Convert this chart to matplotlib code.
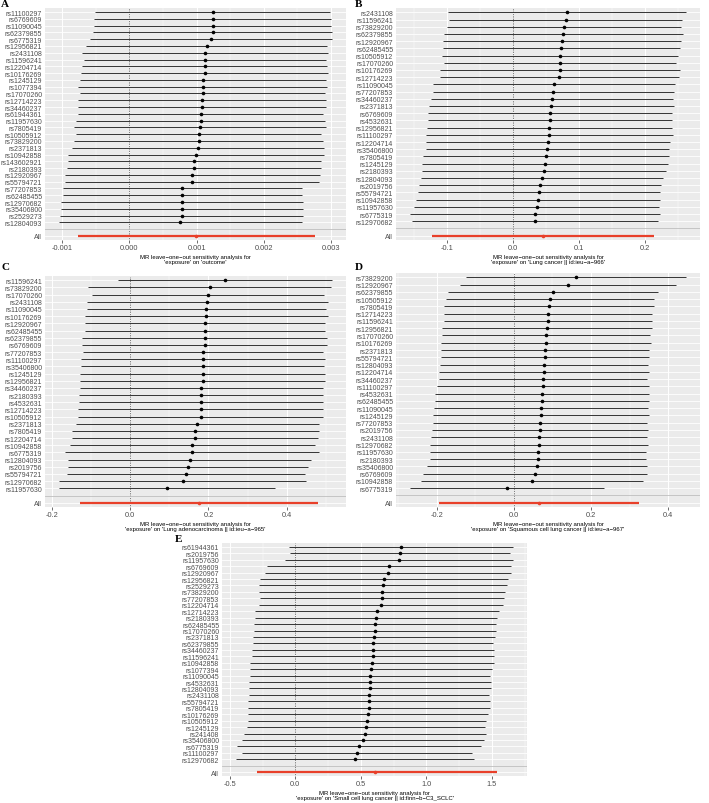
import matplotlib.pyplot as plt

plt.rcParams['font.family'] = ['Liberation Sans', 'DejaVu Sans']

# ---- Panel A: 'exposure' on 'outcome'
snps_a = ['rs11100297', 'rs6769609', 'rs11090045', 'rs62379855', 'rs6775319', 'rs12956821',
          'rs2431108', 'rs11596241', 'rs12204714', 'rs10176269', 'rs1245129', 'rs1077394',
          'rs17070260', 'rs12714223', 'rs34460237', 'rs61944361', 'rs11957630', 'rs7805419',
          'rs10505912', 'rs73829200', 'rs2371813', 'rs10942858', 'rs143602921', 'rs2180393',
          'rs12920967', 'rs55794721', 'rs77207853', 'rs62485455', 'rs12970682', 'rs35406800',
          'rs2529273', 'rs12804093']
est_a = [1.24, 1.24, 1.24, 1.24, 1.22, 1.15, 1.13, 1.13, 1.12, 1.12, 1.10, 1.09, 1.09, 1.08,
         1.08, 1.06, 1.06, 1.05, 1.03, 1.03, 1.02, 0.99, 0.97, 0.96, 0.94, 0.93, 0.79, 0.79,
         0.78, 0.78, 0.78, 0.76]
lo_a = [-0.51, -0.52, -0.52, -0.54, -0.58, -0.64, -0.70, -0.67, -0.70, -0.72, -0.73, -0.76,
        -0.73, -0.76, -0.76, -0.76, -0.79, -0.82, -0.79, -0.82, -0.85, -0.91, -0.91, -0.93,
        -0.96, -0.96, -0.99, -0.99, -1.02, -1.02, -1.03, -1.05]
hi_a = [2.99, 3.00, 3.00, 3.02, 3.02, 2.94, 2.96, 2.93, 2.94, 2.96, 2.93, 2.94, 2.91, 2.92,
        2.92, 2.88, 2.91, 2.92, 2.85, 2.88, 2.89, 2.89, 2.85, 2.85, 2.84, 2.82, 2.57, 2.57,
        2.58, 2.58, 2.59, 2.57]
all_a = [0.99, -0.76, 2.76]
est_a = [v / 1000 for v in est_a]
lo_a = [v / 1000 for v in lo_a]
hi_a = [v / 1000 for v in hi_a]
all_a = [v / 1000 for v in all_a]

# ---- Panel B: Lung cancer || id:ieu-a-966
snps_b = ['rs2431108', 'rs11596241', 'rs73829200', 'rs62379855', 'rs12920967', 'rs62485455',
          'rs10505912', 'rs17070260', 'rs10176269', 'rs12714223', 'rs11090045', 'rs77207853',
          'rs34460237', 'rs2371813', 'rs6769609', 'rs4532631', 'rs12956821', 'rs11100297',
          'rs12204714', 'rs35406800', 'rs7805419', 'rs1245129', 'rs2180393', 'rs12804093',
          'rs2019756', 'rs55794721', 'rs10942858', 'rs11957630', 'rs6775319', 'rs12970682']
est_b = [0.082, 0.080, 0.077, 0.076, 0.074, 0.073, 0.071, 0.071, 0.071, 0.070, 0.062, 0.061,
         0.059, 0.058, 0.056, 0.056, 0.055, 0.055, 0.053, 0.052, 0.050, 0.048, 0.047, 0.044,
         0.041, 0.039, 0.038, 0.036, 0.033, 0.033]
lo_b = [-0.099, -0.096, -0.100, -0.105, -0.106, -0.106, -0.108, -0.105, -0.111, -0.111,
        -0.121, -0.121, -0.124, -0.127, -0.129, -0.129, -0.130, -0.132, -0.132, -0.132,
        -0.136, -0.138, -0.138, -0.139, -0.142, -0.144, -0.146, -0.149, -0.156, -0.153]
hi_b = [0.262, 0.256, 0.254, 0.257, 0.254, 0.252, 0.250, 0.247, 0.253, 0.251, 0.245, 0.243,
        0.242, 0.243, 0.241, 0.241, 0.240, 0.242, 0.238, 0.236, 0.236, 0.234, 0.232, 0.227,
        0.224, 0.222, 0.222, 0.221, 0.222, 0.219]
all_b = [0.045, -0.123, 0.213]

# ---- Panel C: Lung adenocarcinoma || id:ieu-a-965
snps_c = ['rs11596241', 'rs73829200', 'rs17070260', 'rs2431108', 'rs11090045', 'rs10176269',
          'rs12920967', 'rs62485455', 'rs62379855', 'rs6769609', 'rs77207853', 'rs11100297',
          'rs35406800', 'rs1245129', 'rs12956821', 'rs34460237', 'rs2180393', 'rs4532631',
          'rs12714223', 'rs10505912', 'rs2371813', 'rs7805419', 'rs12204714', 'rs10942858',
          'rs6775319', 'rs12804093', 'rs2019756', 'rs55794721', 'rs12970682', 'rs11957630']
est_c = [0.243, 0.203, 0.200, 0.197, 0.195, 0.195, 0.192, 0.192, 0.190, 0.190, 0.187, 0.187,
         0.185, 0.185, 0.185, 0.182, 0.182, 0.182, 0.180, 0.180, 0.172, 0.167, 0.165, 0.159,
         0.157, 0.152, 0.147, 0.142, 0.134, 0.094]
lo_c = [-0.030, -0.106, -0.096, -0.111, -0.111, -0.114, -0.114, -0.114, -0.122, -0.122,
        -0.119, -0.124, -0.124, -0.127, -0.127, -0.127, -0.129, -0.129, -0.132, -0.132,
        -0.137, -0.147, -0.149, -0.154, -0.167, -0.157, -0.159, -0.162, -0.180, -0.182]
hi_c = [0.516, 0.512, 0.496, 0.505, 0.501, 0.504, 0.498, 0.498, 0.502, 0.502, 0.493, 0.498,
        0.494, 0.497, 0.497, 0.491, 0.493, 0.493, 0.492, 0.492, 0.481, 0.481, 0.479, 0.472,
        0.481, 0.461, 0.453, 0.446, 0.448, 0.370]
all_c = [0.176, -0.127, 0.479]

# ---- Panel D: Squamous cell lung cancer || id:ieu-a-967
snps_d = ['rs73829200', 'rs12920967', 'rs62379855', 'rs10505912', 'rs7805419', 'rs12714223',
          'rs11596241', 'rs12956821', 'rs17070260', 'rs10176269', 'rs2371813', 'rs55794721',
          'rs12804093', 'rs12204714', 'rs34460237', 'rs11100297', 'rs4532631', 'rs62485455',
          'rs11090045', 'rs1245129', 'rs77207853', 'rs2019756', 'rs2431108', 'rs12970682',
          'rs11957630', 'rs2180393', 'rs35406800', 'rs6769609', 'rs10942858', 'rs6775319']
est_d = [0.161, 0.140, 0.101, 0.094, 0.091, 0.088, 0.088, 0.086, 0.083, 0.083, 0.081, 0.081,
         0.078, 0.078, 0.075, 0.075, 0.073, 0.073, 0.070, 0.070, 0.068, 0.068, 0.065, 0.065,
         0.062, 0.062, 0.060, 0.055, 0.047, -0.018]
lo_d = [-0.125, -0.140, -0.171, -0.177, -0.182, -0.182, -0.182, -0.187, -0.187, -0.190,
        -0.190, -0.190, -0.192, -0.195, -0.195, -0.200, -0.205, -0.205, -0.208, -0.210,
        -0.210, -0.213, -0.216, -0.218, -0.218, -0.218, -0.226, -0.236, -0.242, -0.270]
hi_d = [0.447, 0.420, 0.373, 0.364, 0.364, 0.358, 0.358, 0.358, 0.353, 0.356, 0.351, 0.351,
        0.348, 0.351, 0.345, 0.351, 0.351, 0.351, 0.348, 0.351, 0.345, 0.348, 0.345, 0.348,
        0.343, 0.343, 0.345, 0.345, 0.335, 0.234]
all_d = [0.065, -0.195, 0.325]

# ---- Panel E: Small cell lung cancer || id:finn-b-C3_SCLC
snps_e = ['rs61944361', 'rs2019756', 'rs11957630', 'rs6769609', 'rs12920967', 'rs12956821',
          'rs2529273', 'rs73829200', 'rs77207853', 'rs12204714', 'rs12714223', 'rs2180393',
          'rs62485455', 'rs17070260', 'rs2371813', 'rs62379855', 'rs34460237', 'rs11596241',
          'rs10942858', 'rs1077394', 'rs11090045', 'rs4532631', 'rs12804093', 'rs2431108',
          'rs55794721', 'rs7805419', 'rs10176269', 'rs10505912', 'rs1245129', 'rs241408',
          'rs35406800', 'rs6775319', 'rs11100297', 'rs12970682']
est_e = [0.808, 0.800, 0.792, 0.715, 0.708, 0.677, 0.669, 0.662, 0.662, 0.654, 0.623, 0.615,
         0.608, 0.608, 0.600, 0.592, 0.592, 0.592, 0.585, 0.577, 0.569, 0.569, 0.569, 0.562,
         0.562, 0.562, 0.554, 0.546, 0.538, 0.531, 0.515, 0.485, 0.469, 0.454]
lo_e = [-0.046, -0.038, -0.077, -0.215, -0.231, -0.269, -0.277, -0.277, -0.269, -0.277,
        -0.308, -0.308, -0.315, -0.315, -0.323, -0.323, -0.331, -0.331, -0.346, -0.346,
        -0.346, -0.354, -0.354, -0.354, -0.362, -0.362, -0.362, -0.362, -0.369, -0.392,
        -0.408, -0.446, -0.408, -0.454]
hi_e = [1.662, 1.638, 1.661, 1.645, 1.647, 1.623, 1.615, 1.601, 1.593, 1.585, 1.554, 1.538,
        1.531, 1.531, 1.523, 1.507, 1.515, 1.515, 1.516, 1.500, 1.484, 1.492, 1.492, 1.478,
        1.486, 1.486, 1.470, 1.454, 1.445, 1.454, 1.438, 1.416, 1.346, 1.362]
all_e = [0.610, -0.290, 1.540]

W, H = 709, 804
fig = plt.figure(figsize=(W / 100, H / 100), dpi=100)


def panel(box, letter, letter_xy, snps, est, lo, hi, tot, ticks, ticklabels, xlabel):
    x0, y0, x1, y1 = box
    ax = fig.add_axes([x0 / W, 1 - y1 / H, (x1 - x0) / W, (y1 - y0) / H])
    ax.set_facecolor('#EBEBEB')
    n = len(snps)
    ys = [n + 2 - i for i in range(n)]
    # white row grid
    for y in ys + [1]:
        ax.axhline(y, color='white', lw=0.6, zorder=0)
    # vertical grid (major + minor)
    step = ticks[1] - ticks[0]
    for t in ticks:
        ax.axvline(t, color='white', lw=0.7, zorder=0)
    for k in range(len(ticks) + 1):
        ax.axvline(ticks[0] - step / 2 + k * step, color='white', lw=0.35, zorder=0)
    ax.axvline(0, color='black', lw=0.5, ls=(0, (1, 1.5)), zorder=1)
    ax.axhline(2, color='#BEBEBE', lw=0.6, zorder=1)
    ax.hlines(ys, lo, hi, color='#333333', lw=0.7, zorder=2)
    ax.plot(est, ys, 'o', color='black', ms=2.6, mew=0, zorder=3)
    ax.hlines(1, tot[1], tot[2], color='#E8402A', lw=1.6, zorder=2)
    ax.plot(tot[0], 1, 'o', color='#E8402A', ms=2.6, mew=0, zorder=3)
    lmin = min(min(lo), tot[1], 0)
    lmax = max(max(hi), tot[2], 0)
    pad = (lmax - lmin) * 0.05
    ax.set_xlim(lmin - pad, lmax + pad)
    ax.set_ylim(0.4, n + 2.6)
    ax.set_yticks(ys + [2, 1])
    ax.set_yticklabels(snps + ['', 'All'], fontsize=5, color='#4D4D4D')
    ax.set_xticks(ticks)
    ax.set_xticklabels(ticklabels, fontsize=5.3, color='#4D4D4D')
    ax.tick_params(axis='y', length=0, pad=2)
    ax.tick_params(axis='x', length=2, width=0.5, color='#333333', pad=1)
    ax.set_xlabel(xlabel, fontsize=4.3, labelpad=2, linespacing=1.1)
    for s in ax.spines.values():
        s.set_visible(False)
    fig.text(letter_xy[0] / W, 1 - letter_xy[1] / H, letter, fontsize=8, fontweight='bold',
             family='Liberation Serif', ha='left', va='top')
    return ax


panel((45, 9, 346, 241), 'A', (1, 0), snps_a, est_a, lo_a, hi_a, all_a,
      [-0.001, 0.0, 0.001, 0.002, 0.003], ['-0.001', '0.000', '0.001', '0.002', '0.003'],
      "MR leave\u2212one\u2212out sensitivity analysis for\n'exposure' on 'outcome'")
panel((396, 9, 700, 241), 'B', (355, 0), snps_b, est_b, lo_b, hi_b, all_b,
      [-0.1, 0.0, 0.1, 0.2], ['-0.1', '0.0', '0.1', '0.2'],
      "MR leave\u2212one\u2212out sensitivity analysis for\n'exposure' on 'Lung cancer || id:ieu\u2212a\u2212966'")
panel((45, 277, 346, 508), 'C', (2, 263), snps_c, est_c, lo_c, hi_c, all_c,
      [-0.2, 0.0, 0.2, 0.4], ['-0.2', '0.0', '0.2', '0.4'],
      "MR leave\u2212one\u2212out sensitivity analysis for\n'exposure' on 'Lung adenocarcinoma || id:ieu\u2212a\u2212965'")
panel((396, 274, 700, 508), 'D', (355, 263), snps_d, est_d, lo_d, hi_d, all_d,
      [-0.2, 0.0, 0.2, 0.4], ['-0.2', '0.0', '0.2', '0.4'],
      "MR leave\u2212one\u2212out sensitivity analysis for\n'exposure' on 'Squamous cell lung cancer || id:ieu\u2212a\u2212967'")
panel((222, 544, 527, 777), 'E', (175, 535), snps_e, est_e, lo_e, hi_e, all_e,
      [-0.5, 0.0, 0.5, 1.0, 1.5], ['-0.5', '0.0', '0.5', '1.0', '1.5'],
      "MR leave\u2212one\u2212out sensitivity analysis for\n'exposure' on 'Small cell lung cancer || id:finn\u2212b\u2212C3_SCLC'")

fig.savefig('out.png', dpi=100)
